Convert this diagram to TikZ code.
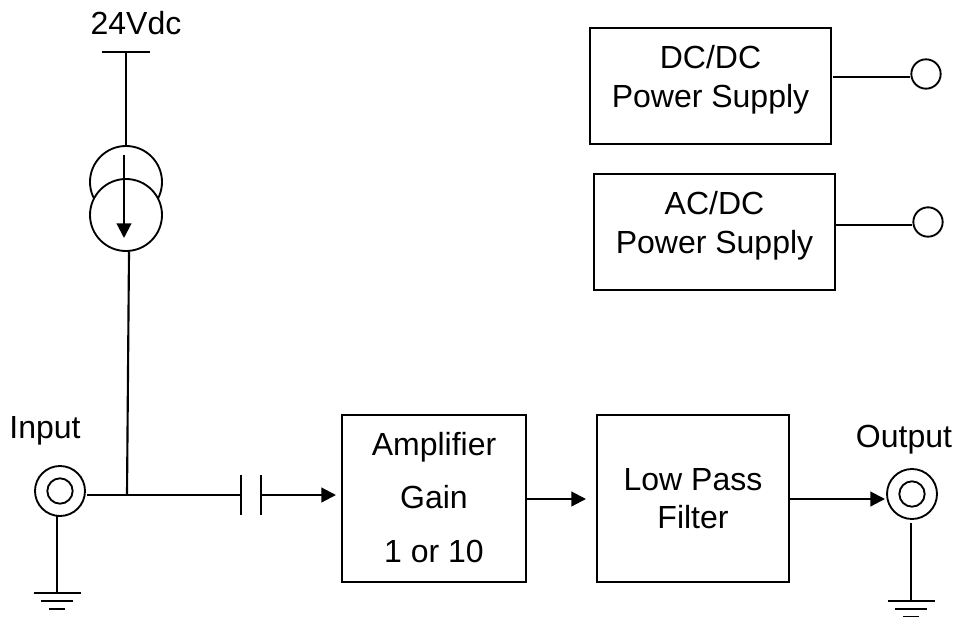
\documentclass[tikz,border=0pt]{standalone}
\usepackage{fontspec}
\setmainfont{Liberation Sans}
\usetikzlibrary{arrows.meta}
\tikzset{
    block/.style={draw, line width=1.5pt, rectangle, inner sep=0pt, align=center},
    txt/.style={font=\fontsize{24}{29}\selectfont, inner sep=0pt, anchor=base},
    ring/.style={draw, line width=1.4pt, circle, inner sep=0pt, fill=white},
    wire/.style={line width=1.6pt},
    thin wire/.style={line width=0.8pt},
    flow/.style={line width=1.6pt, -{Triangle[length=11pt, width=11pt]}},
}
\begin{document}
\begin{tikzpicture}[x=0.75pt, y=-0.75pt]
    \useasboundingbox (0, 0) rectangle (956, 617);

    % supply blocks
    \node[block, minimum width=181pt, minimum height=87pt, text depth=14pt, font=\fontsize{24}{29}\selectfont] (dcdc) at (710.5, 86) {DC/DC\\Power Supply};
    \node[block, minimum width=181pt, minimum height=87pt, text depth=14pt, font=\fontsize{24}{29}\selectfont] (acdc) at (714.5, 231.5) {AC/DC\\Power Supply};
    \node[ring, minimum size=22pt] (dcout) at (926, 74) {};
    \node[ring, minimum size=22pt] (acout) at (928, 222) {};
    \coordinate (dcline) at (833, 77);
    \coordinate (acline) at (835, 225);
    \draw[wire] (dcline) -- (dcline -| dcout.west);
    \draw[wire] (acline) -- (acline -| acout.west);

    % signal path
    \node[block, minimum width=138pt, minimum height=125pt, text depth=2pt, font=\fontsize{24}{40}\selectfont] (amp) at (434, 498.5) {Amplifier\\Gain\\1 or 10};
    \node[block, minimum width=144pt, minimum height=125pt, text depth=0pt, font=\fontsize{24}{28}\selectfont] (lpf) at (693, 498.5) {Low Pass\\Filter};

    % input connector
    \node[txt] (inlabel) at (45, 438) {Input};
    \node[ring, minimum size=37.5pt] (incoax) at (60, 491) {};
    \node[ring, minimum size=19pt] (incore) at (60, 491) {};
    \coordinate (instart) at (87, 495);
    \coordinate (tee) at (127, 495);
    \coordinate (capleft) at (241, 495);
    \coordinate (capright) at (261, 495);
    \coordinate (ampin) at (336, 495);
    \draw[wire] (instart) -- (capleft);
    \draw[wire] (capleft) ++(0, -20) -- ++(0, 40);
    \draw[wire] (capright) ++(0, -20) -- ++(0, 40);
    \draw[flow] (capright) -- (ampin);

    % output connector
    \node[txt] (outlabel) at (904, 447) {Output};
    \node[ring, minimum size=37.5pt] (outcoax) at (912, 494) {};
    \node[ring, minimum size=19pt] (outcore) at (912, 494) {};
    \coordinate (ampout) at (527, 499);
    \coordinate (lpfin) at (586, 499);
    \coordinate (lpfout) at (789, 499);
    \coordinate (outend) at (885, 499);
    \draw[flow] (ampout) -- (lpfin);
    \draw[flow] (lpfout) -- (outend);

    % grounds
    \coordinate (ingnd) at (57, 593);
    \coordinate (outgnd) at (911, 601);
    \draw[thin wire] (57, 516) -- (ingnd);
    \draw[thin wire] (911, 523) -- (outgnd);
    \foreach \g in {ingnd, outgnd} {
        \draw[thin wire] (\g) ++(-23.5, 0) -- ++(47, 0);
        \draw[thin wire] (\g) ++(-16, 8) -- ++(32, 0);
        \draw[thin wire] (\g) ++(-8, 16) -- ++(16, 0);
    }

    % 24V current source
    \node[txt] (vlabel) at (136, 35) {24Vdc};
    \coordinate (rail) at (126, 52);
    \draw[wire] (rail) ++(-24, 0) -- ++(48, 0);
    \node[ring, minimum size=54pt] (srctop) at (126, 182) {};
    \node[ring, minimum size=54pt] (srcbot) at (126, 215) {};
    \coordinate (arrowtop) at (124, 155);
    \coordinate (arrowend) at (124, 238);
    \draw[wire] (rail) -- (srctop.north);
    \draw[flow] (arrowtop) -- (arrowend);
    \coordinate (srcout) at (129, 252);
    \draw[wire] (srcout) -- (tee);
\end{tikzpicture}
\end{document}
